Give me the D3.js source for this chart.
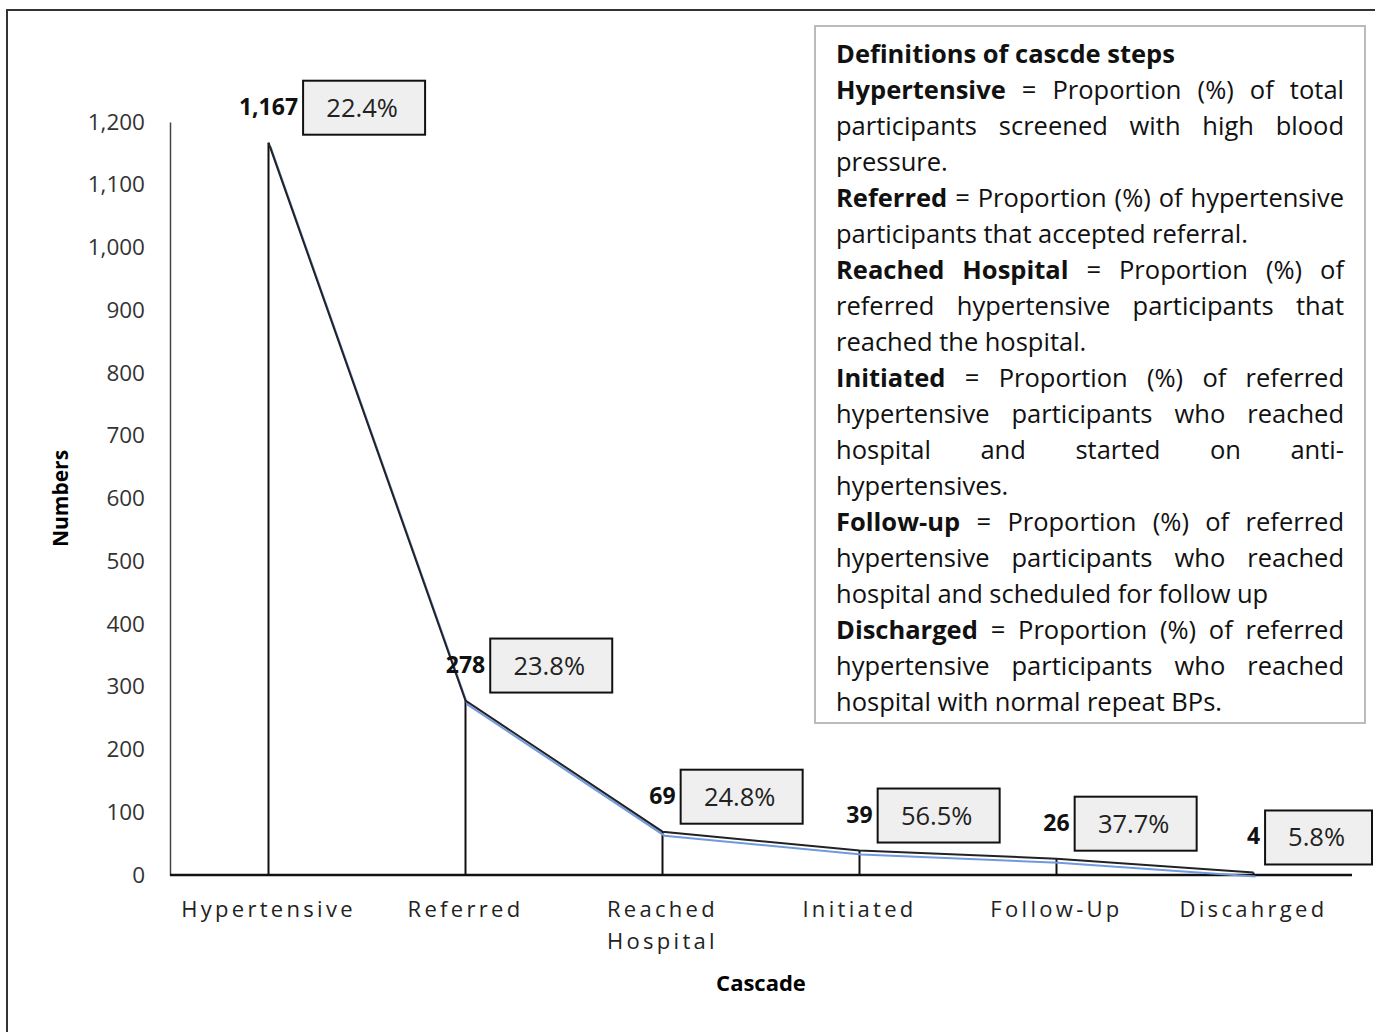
<!DOCTYPE html>
<html>
<head>
<meta charset="utf-8">
<script src="https://cdn.jsdelivr.net/npm/d3@7"></script>
<style>
  body { margin: 0; background: #fff; }
  svg { display: block; font-family: "Open Sans", Lato, sans-serif; }
</style>
</head>
<body>
<svg id="chart" width="1375" height="1032"></svg>
<script>
// data
var steps = ["Hypertensive", "Referred", "Reached Hospital", "Initiated", "Follow-Up", "Discahrged"];
var counts = [1167, 278, 69, 39, 26, 4];
var percents = ["22.4%", "23.8%", "24.8%", "56.5%", "37.7%", "5.8%"];
var yTicks = [0, 100, 200, 300, 400, 500, 600, 700, 800, 900, 1000, 1100, 1200];

// definitions box, one entry per line: [bold part, rest, justify?]
var defTitle = "Definitions of cascde steps";
var defLines = [
  ["Hypertensive", "= Proportion (%) of total", true],
  ["", "participants screened with high blood", true],
  ["", "pressure.", false],
  ["Referred", "= Proportion (%) of hypertensive", true],
  ["", "participants that accepted referral.", false],
  ["Reached Hospital", "= Proportion (%) of", true],
  ["", "referred hypertensive participants that", true],
  ["", "reached the hospital.", false],
  ["Initiated", "= Proportion (%) of referred", true],
  ["", "hypertensive participants who reached", true],
  ["", "hospital and started on anti-", true],
  ["", "hypertensives.", false],
  ["Follow-up", "= Proportion (%) of referred", true],
  ["", "hypertensive participants who reached", true],
  ["", "hospital and scheduled for follow up", false],
  ["Discharged", "= Proportion (%) of referred", true],
  ["", "hypertensive participants who reached", true],
  ["", "hospital with normal repeat BPs.", false]
];

var svg = d3.select("#chart");
var W = 1375;
var margin = {left: 170, right: 23, top: 122, bottom: 157};
var H = 1032;

// outer frame
svg.append("path")
    .attr("d", "M7,1032 V10 H1375")
    .attr("fill", "none")
    .attr("stroke", "#333")
    .attr("stroke-width", 2);

var x = d3.scalePoint()
    .domain(steps)
    .range([margin.left, W - margin.right])
    .padding(0.5);
var y = d3.scaleLinear()
    .domain([0, 1200])
    .range([H - margin.bottom, margin.top]);

// y axis
var yAxis = svg.append("g")
    .attr("transform", "translate(" + margin.left + ",0)")
    .call(d3.axisLeft(y).tickValues(yTicks).tickSize(0).tickPadding(25).tickFormat(d3.format(",")));
yAxis.select(".domain").attr("stroke", "#444").attr("stroke-width", 1.5);
yAxis.selectAll("text").attr("font-size", 22.5).attr("fill", "#333").attr("font-family", "Open Sans");

// x axis
var xAxis = svg.append("g")
    .attr("transform", "translate(0," + y(0) + ")")
    .call(d3.axisBottom(x).tickSize(0).tickPadding(24).tickFormat(""));
xAxis.select(".domain").attr("stroke", "#111").attr("stroke-width", 2.5)
    .attr("d", "M" + margin.left + ",0H" + (W - margin.right));

svg.append("g").selectAll("text")
    .data(steps)
    .join("text")
    .attr("x", d => x(d))
    .attr("y", y(0) + 42)
    .attr("text-anchor", "middle")
    .attr("font-size", 22)
    .attr("letter-spacing", 3.3)
    .attr("fill", "#222")
    .each(function(d) {
        var parts = d === "Reached Hospital" ? ["Reached", "Hospital"] : [d];
        var t = d3.select(this);
        parts.forEach((p, i) => {
            t.append("tspan").attr("x", x(d)).attr("dy", i ? 32 : 0).text(p);
        });
    });

// axis titles
svg.append("text")
    .attr("x", 761).attr("y", 991)
    .attr("text-anchor", "middle")
    .attr("font-size", 22).attr("font-weight", "bold")
    .text("Cascade");
svg.append("text")
    .attr("transform", "translate(68," + ((y(0) + y(1200)) / 2) + ") rotate(-90)")
    .attr("text-anchor", "middle")
    .attr("font-size", 21).attr("font-weight", "bold")
    .text("Numbers");

// drop lines
svg.append("g").selectAll("line")
    .data(counts)
    .join("line")
    .attr("x1", (d, i) => x(steps[i]))
    .attr("x2", (d, i) => x(steps[i]))
    .attr("y1", d => y(d))
    .attr("y2", y(0))
    .attr("stroke", "#111")
    .attr("stroke-width", 2);

// cascade line (blue with dark outline offset)
var line = d3.line()
    .x((d, i) => x(steps[i]))
    .y(d => y(d));
svg.append("path")
    .datum(counts)
    .attr("d", line)
    .attr("transform", "translate(2,4)")
    .attr("fill", "none")
    .attr("stroke", "#7199e0")
    .attr("stroke-width", 2);
svg.append("path")
    .datum(counts)
    .attr("d", line)
    .attr("fill", "none")
    .attr("stroke", "#222")
    .attr("stroke-width", 2);

// value labels and percent boxes
var ann = svg.append("g");
counts.forEach((c, i) => {
    var px = x(steps[i]), py = y(c) - 35;
    var lbl = ann.append("text")
        .attr("x", px)
        .attr("y", py + 7)
        .attr("text-anchor", "middle")
        .attr("font-size", 23)
        .attr("font-weight", "bold")
        .attr("fill", "#111")
        .text(d3.format(",")(c));
    var bb = lbl.node().getBBox();
    var bx = bb.x + bb.width + 5;
    var bw = Math.min(122, W - 3 - bx);
    ann.append("rect")
        .attr("x", bx).attr("y", py - 27)
        .attr("width", bw).attr("height", 54)
        .attr("fill", "#efefef")
        .attr("stroke", "#111")
        .attr("stroke-width", 2);
    ann.append("text")
        .attr("x", bx + bw / 2 - 2)
        .attr("y", py + 9)
        .attr("text-anchor", "middle")
        .attr("font-size", 25.5)
        .attr("fill", "#222")
        .text(percents[i]);
});

// definitions box
var box = {x: 815, y: 26, w: 550, h: 697};
svg.append("rect")
    .attr("x", box.x).attr("y", box.y)
    .attr("width", box.w).attr("height", box.h)
    .attr("fill", "#fff")
    .attr("stroke", "#bbb")
    .attr("stroke-width", 2);

var tx0 = 836, tx1 = 1344, lh = 36;
var defs = svg.append("g").attr("font-size", 25.5).attr("fill", "#111");
defs.append("text")
    .attr("x", tx0).attr("y", 63)
    .attr("font-weight", "bold")
    .text(defTitle);

defLines.forEach((ln, k) => {
    var baseY = 99 + k * lh;
    var words = [];
    if (ln[0]) ln[0].split(" ").forEach(w => words.push({t: w, b: true}));
    ln[1].split(" ").forEach(w => words.push({t: w, b: false}));
    var nodes = words.map(w => defs.append("text")
        .attr("y", baseY)
        .attr("font-weight", w.b ? "bold" : "normal")
        .text(w.t));
    var widths = nodes.map(n => n.node().getComputedTextLength());
    var total = d3.sum(widths);
    var gap = ln[2] && words.length > 1 ? (tx1 - tx0 - total) / (words.length - 1) : 6.5;
    var cx = tx0;
    nodes.forEach((n, j) => {
        n.attr("x", cx);
        cx += widths[j] + gap;
    });
});
</script>
</body>
</html>
